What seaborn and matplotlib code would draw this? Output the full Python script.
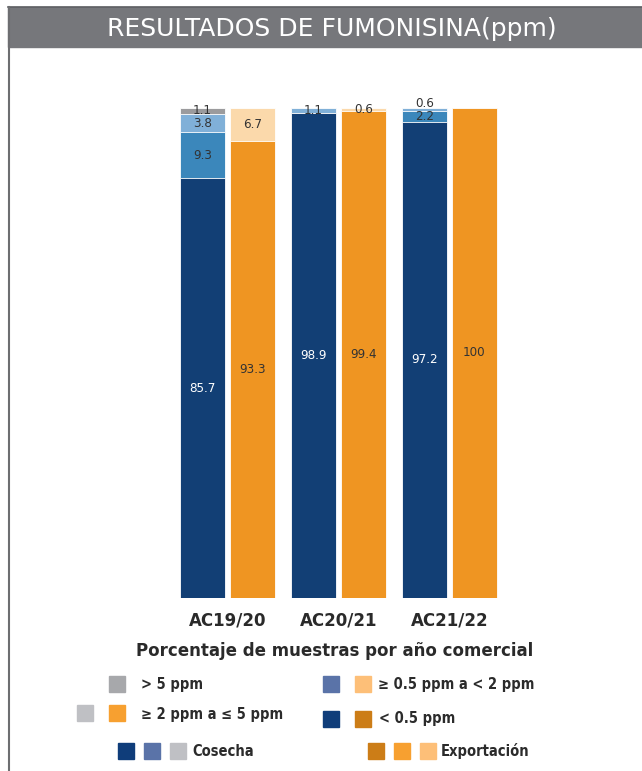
import numpy as np
import pandas as pd
import seaborn as sns
from matplotlib import pyplot as plt
from matplotlib.patches import Rectangle
from matplotlib.lines import Line2D

years = ['AC19/20', 'AC20/21', 'AC21/22']
sources = ['Cosecha', 'Exportación']
levels = ['< 0.5 ppm', '≥ 0.5 ppm a < 2 ppm', '≥ 2 ppm a ≤ 5 ppm', '> 5 ppm']

# percent of samples per level (bottom to top)
cosecha_lt05 = [85.7, 98.9, 97.2]
cosecha_05_2 = [9.3, 0.0, 2.2]
cosecha_2_5 = [3.8, 1.1, 0.6]
cosecha_gt5 = [1.1, 0.0, 0.0]

export_lt05 = [93.3, 99.4, 100.0]
export_05_2 = [6.7, 0.6, 0.0]
export_2_5 = [0.0, 0.0, 0.0]
export_gt5 = [0.0, 0.0, 0.0]

cos_colors = ['#123f75', '#3b87bb', '#80b0d8', '#9b9b9d']
exp_colors = ['#ef9522', '#fbd9ab', '#fbd9ab', '#fbd9ab']

rows = []
cos_vals = [cosecha_lt05, cosecha_05_2, cosecha_2_5, cosecha_gt5]
exp_vals = [export_lt05, export_05_2, export_2_5, export_gt5]
for i, y in enumerate(years):
    for src, vals in (('Cosecha', cos_vals), ('Exportación', exp_vals)):
        cum = 0
        for k, lv in enumerate(levels):
            cum += vals[k][i]
            rows.append({'year': y, 'source': src, 'level': k,
                         'value': vals[k][i], 'cum': cum})
df = pd.DataFrame(rows)

fig = plt.figure(figsize=(6.42, 7.71), dpi=100)
W, H = 642, 771

ax = fig.add_axes([172 / W, 1 - 598 / H, 333 / W, 490 / H])

# draw cumulative layers from top to bottom so lower ones cover upper ones
for k in range(len(levels) - 1, -1, -1):
    sub = df[df.level == k]
    sns.barplot(data=sub, x='year', y='cum', hue='source', order=years,
                hue_order=sources,
                palette={'Cosecha': cos_colors[k], 'Exportación': exp_colors[k]},
                width=0.9, gap=0.1, edgecolor='white', linewidth=0.6,
                saturation=1, legend=False, ax=ax, errorbar=None)

ax.set_ylim(0, 100)
ax.set_xlim(-0.5, 2.5)
ax.set_yticks([])
ax.set_ylabel('')
ax.set_xlabel('')
ax.tick_params(axis='x', length=0, pad=10)
for lab in ax.get_xticklabels():
    lab.set_fontweight('bold')
    lab.set_fontsize(12)
    lab.set_color('#2a2a2a')
for s in ax.spines.values():
    s.set_visible(False)

# segment labels, nudged apart when thin segments sit on top of each other
offs = {'Cosecha': -0.225, 'Exportación': 0.225}
for (yr, src), grp in df.groupby(['year', 'source'], sort=False):
    prev = None
    for _, r in grp.sort_values('level').iterrows():
        if r.value <= 0:
            continue
        ypos = r.cum - r.value / 2
        if prev is not None and ypos - prev < 2.6:
            ypos = prev + 2.6
        prev = ypos
        xi = years.index(yr) + offs[src]
        col = 'white' if (src == 'Cosecha' and r.level == 0) else '#333333'
        ax.text(xi, ypos, f'{r.value:g}', ha='center', va='center',
                fontsize=9.5, color=col, fontstretch='condensed')

fig.text(335 / W, 1 - 651 / H, 'Porcentaje de muestras por año comercial',
         ha='center', va='center', fontsize=12, fontweight='bold', color='#2a2a2a')

# banner
fig.patches.append(Rectangle((8 / W, 1 - 47 / H), 634 / W, 40 / H,
                             transform=fig.transFigure, color='#76777b', zorder=0))
fig.lines.append(Line2D([8 / W, 1], [1 - 7 / H, 1 - 7 / H], transform=fig.transFigure,
                        color='#5f6064', lw=1.2))
fig.lines.append(Line2D([8.5 / W, 8.5 / W], [0, 1 - 7 / H], transform=fig.transFigure,
                        color='#6d6e71', lw=1.5))
fig.text(332 / W, 1 - 29 / H, 'RESULTADOS DE FUMONISINA(ppm)', ha='center',
         va='center', fontsize=18, color='white')

# legend
def square(px, py, color):
    fig.patches.append(Rectangle((px / W, 1 - (py + 8) / H), 16 / W, 16 / H,
                                 transform=fig.transFigure, color=color))

def label(px, py, txt):
    fig.text(px / W, 1 - py / H, txt, ha='left', va='center', fontsize=10.5,
             fontweight='bold', color='#2b2b2b', fontstretch='condensed')

square(109, 684, '#a7a8ab')
label(141, 685, '> 5 ppm')
square(77, 713, '#bfc0c4')
square(109, 713, '#f7a030')
label(141, 714, '≥ 2 ppm a ≤ 5 ppm')
square(323, 684, '#5a73a8')
square(355, 684, '#fdbf78')
label(378, 684, '≥ 0.5 ppm a < 2 ppm')
square(323, 719, '#0f3d7a')
square(355, 719, '#cc7d17')
label(379, 719, '< 0.5 ppm')
square(118, 751, '#0f3d7a')
square(144, 751, '#5a73a8')
square(170, 751, '#bfc0c4')
label(192, 751, 'Cosecha')
square(368, 751, '#cc7d17')
square(394, 751, '#f7a030')
square(420, 751, '#fdbf78')
label(441, 751, 'Exportación')

fig.savefig('out.png', dpi=100)
